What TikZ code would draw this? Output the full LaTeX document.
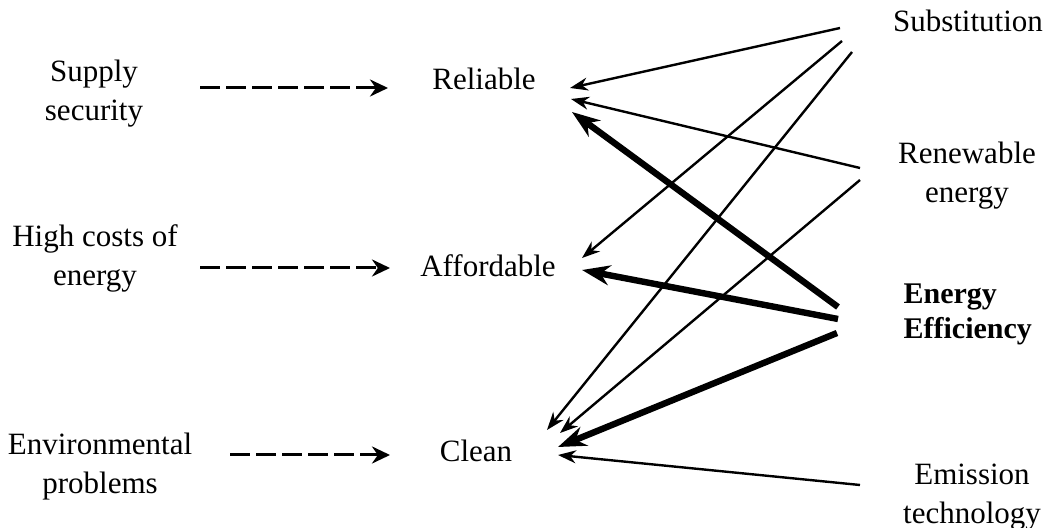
\documentclass[tikz,border=0pt]{standalone}
\usepackage{fontspec}
\setmainfont{Liberation Serif}
\usepackage{tikz}
\usetikzlibrary{arrows.meta}

\begin{document}
\begin{tikzpicture}[x=0.5pt,y=-0.5pt,semithick,font=\fontsize{15.5}{19.5}\selectfont]
    \tikzstyle{every node}=[inner sep=0pt,align=center]
    \tikzstyle{dasharrow}=[line width=1.5pt,dash pattern=on 10pt off 3pt,-{Stealth[length=9pt,width=8.5pt]}]
    \tikzstyle{thinarrow}=[line width=1.2pt,-{Stealth[length=9pt,width=6.5pt]}]
    \tikzstyle{thickarrow}=[line width=3.2pt,-{Stealth[length=14pt,width=10pt]}]

    \useasboundingbox (0,0) rectangle (1059,528);

    % causes
    \node (sup)  at (94,94)  {Supply\\security};
    \node (cost) at (95,258) {High costs of\\energy};
    \node (env)  at (100,467) {Environmental\\problems};

    % goals
    \node[anchor=base] (rel) at (484,90)  {Reliable};
    \node[anchor=base] (aff) at (488,277) {Affordable};
    \node[anchor=base] (cln) at (476,462) {Clean};

    % measures
    \node[anchor=base] (subs) at (968,32) {Substitution};
    \node (ren) at (967,176) {Renewable\\energy};
    \node[anchor=west,align=left,font=\fontsize{15}{17.5}\selectfont\bfseries] (eff) at (903,314) {Energy\\Efficiency};
    \node (emi) at (972,497) {Emission\\technology};

    % arrow ends
    \coordinate (sup-out) at (200,88);   \coordinate (rel-in) at (388,88);
    \coordinate (cost-out) at (200,268); \coordinate (aff-in) at (390,268);
    \coordinate (env-out) at (230,455);  \coordinate (cln-in) at (390,455);

    \coordinate (subs-1) at (840,28);  \coordinate (subs-2) at (842,41);  \coordinate (subs-3) at (852,52);
    \coordinate (ren-1) at (860,168);  \coordinate (ren-2) at (860,180);
    \coordinate (eff-1) at (838,307);  \coordinate (eff-2) at (838,319);  \coordinate (eff-3) at (837,333);
    \coordinate (emi-1) at (860,485);

    \coordinate (rel-a) at (570,88);  \coordinate (rel-b) at (571,99);  \coordinate (rel-c) at (572,112);
    \coordinate (aff-a) at (582,258); \coordinate (aff-b) at (582,270);
    \coordinate (cln-a) at (547,430); \coordinate (cln-b) at (560,433); \coordinate (cln-c) at (558,447);
    \coordinate (cln-d) at (558,455);

    \draw[dasharrow] (sup-out) -- (rel-in);
    \draw[dasharrow] (cost-out) -- (aff-in);
    \draw[dasharrow] (env-out) -- (cln-in);

    \draw[thinarrow] (subs-1) -- (rel-a);
    \draw[thinarrow] (subs-2) -- (aff-a);
    \draw[thinarrow] (subs-3) -- (cln-a);
    \draw[thinarrow] (ren-1) -- (rel-b);
    \draw[thinarrow] (ren-2) -- (cln-b);
    \draw[thickarrow] (eff-1) -- (rel-c);
    \draw[thickarrow] (eff-2) -- (aff-b);
    \draw[thickarrow] (eff-3) -- (cln-c);
    \draw[thinarrow] (emi-1) -- (cln-d);
\end{tikzpicture}
\end{document}
